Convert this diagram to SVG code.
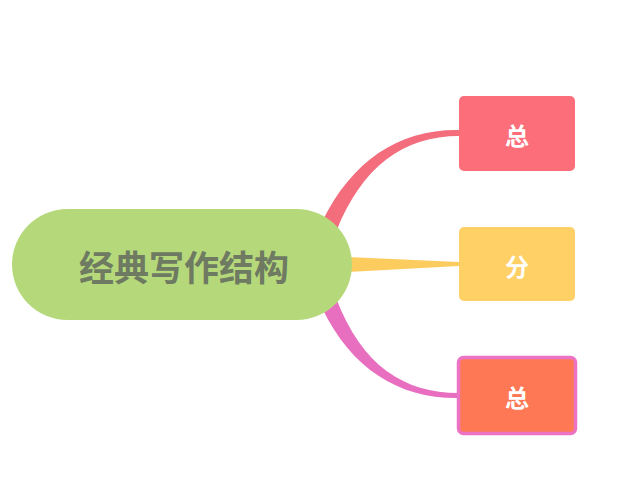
<svg xmlns="http://www.w3.org/2000/svg" width="629" height="500" viewBox="0 0 629 500">
<style>
.t{font-family:"Noto Sans CJK SC","Noto Sans",sans-serif;font-weight:bold;text-anchor:middle;dominant-baseline:central}
.s{fill:#fff;font-size:24px}
</style>
<rect width="629" height="500" fill="#fff"/>
<g id="connectors">
<path d="M322,222 C352,160 400,129 459,130 L459,136 C404,136 362,166 336,232 Z" fill="#f36d7c"/>
<path d="M348,257 L459,262 L459,266 L348,272 Z" fill="#fdcc5f"/>
<path d="M322,308 C352,370 400,399 459,398 L459,393 C404,393 362,366 336,298 Z" fill="#e86fc0"/>
</g>
<g id="root">
<rect x="12" y="209" width="340" height="111" rx="55.5" fill="#b5d97a"/>
<text class="t" x="184" y="265" font-size="35" fill="#6e7a62">经典写作结构</text>
</g>
<g id="n1">
<rect x="459" y="96" width="116" height="75" rx="5" fill="#fd6e7b"/>
<text class="t s" x="517" y="134">总</text>
</g>
<g id="n2">
<rect x="459" y="227" width="116" height="74" rx="5" fill="#fed065"/>
<text class="t s" x="517" y="265">分</text>
</g>
<g id="n3">
<rect x="458.5" y="357.5" width="117" height="76" rx="5" fill="#fe7856" stroke="#ec73c3" stroke-width="3.5"/>
<text class="t s" x="517" y="396">总</text>
</g>
</svg>
